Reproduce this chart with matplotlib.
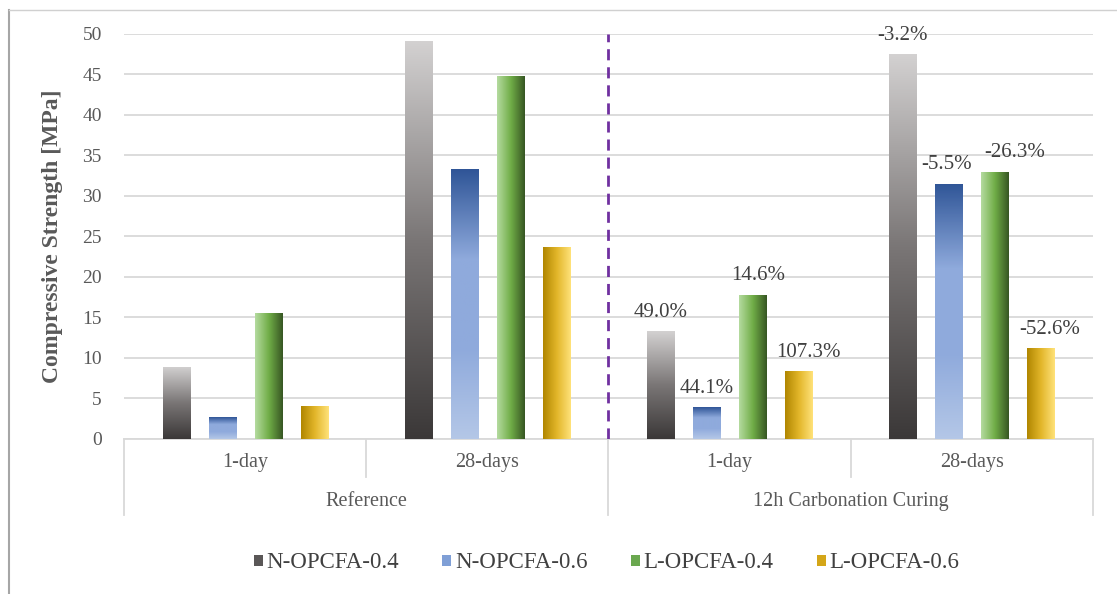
import numpy as np
import matplotlib.pyplot as plt
from matplotlib.patches import Patch
from matplotlib.colors import LinearSegmentedColormap

plt.rcParams['font.family'] = ['Liberation Serif', 'DejaVu Serif']

# data
ages = ['1-day', '28-days', '1-day', '28-days']
curing = ['Reference', '12h Carbonation Curing']
series = ['N-OPCFA-0.4', 'N-OPCFA-0.6', 'L-OPCFA-0.4', 'L-OPCFA-0.6']
n_04 = [8.9, 49.1, 13.3, 47.5]
n_06 = [2.7, 33.3, 3.9, 31.5]
l_04 = [15.5, 44.8, 17.8, 33.0]
l_06 = [4.05, 23.7, 8.4, 11.2]
# change vs. reference, for the carbonated groups (index 2 and 3)
change_1day = ['49.0%', '44.1%', '14.6%', '107.3%']
change_28day = ['-3.2%', '-5.5%', '-26.3%', '-52.6%']

# gradient fills: (colors, direction)
fills = [
    (['#3b3838', '#7a7676', '#d3d1d1'], 'v'),
    (['#b4c7e7', '#8faadc', '#8faadc', '#2f5597'], 'v'),
    (['#b5dba0', '#70ad47', '#375623'], 'h'),
    (['#b08600', '#e2b62a', '#ffe27a'], 'h'),
]
legend_cols = ['#5a5757', '#7f9fd6', '#6aa84f', '#d4a618']
label_dx = [[0, 0, 4, 7], [0, -2, 14, 6]]

fig = plt.figure(figsize=(11.17, 5.94), dpi=100)
ax = fig.add_axes([0.111, 0.261, 0.8675, 0.682])

x = np.arange(len(ages))
offs = [-0.285, -0.095, 0.095, 0.285]
width = 0.112
grad = np.linspace(0, 1, 256)

for vals, off, (cols, d) in zip([n_04, n_06, l_04, l_06], offs, fills):
    bars = ax.bar(x + off, vals, width, facecolor='none', edgecolor='none', zorder=3)
    cmap = LinearSegmentedColormap.from_list('g', cols)
    img = grad[::-1].reshape(-1, 1) if d == 'v' else grad.reshape(1, -1)
    for b in bars:
        x0, y0 = b.get_x(), b.get_y()
        im = ax.imshow(img, cmap=cmap, aspect='auto', zorder=3,
                       extent=[x0, x0 + b.get_width(), y0, y0 + b.get_height()])
        im.set_clip_path(b)

ax.set_xlim(-0.5, 3.5)
ax.set_ylim(0, 50)
ax.set_yticks(range(0, 51, 5))
ax.grid(axis='y', color='#d9d9d9', lw=1.3, zorder=0)
ax.set_axisbelow(True)
for s in ['left', 'right', 'top']:
    ax.spines[s].set_visible(False)
ax.spines['bottom'].set_color('#d9d9d9')
ax.spines['bottom'].set_linewidth(1.3)
ax.tick_params(axis='y', length=0, pad=16, labelsize=14, labelcolor='#595959')
ax.set_xticks([])
ax.set_ylabel('Compressive Strength [MPa]', fontsize=17, fontweight='bold',
              color='#595959')
ax.yaxis.set_label_coords(-0.063, 0.5)

# percent labels over the carbonated bars
for gi, labels in zip([2, 3], [change_1day, change_28day]):
    for si, (vals, off) in enumerate(zip([n_04, n_06, l_04, l_06], offs)):
        ax.annotate(labels[si], (gi + off, vals[gi]),
                    xytext=(label_dx[gi - 2][si], 13.5), textcoords='offset points',
                    ha='center', va='center', fontsize=15, color='#404040')

# divider between reference and carbonation curing
ax.axvline(1.5, color='#7030a0', lw=2, ls=(0, (4, 2.5)), zorder=4)

# two-level category axis
tr = ax.get_xaxis_transform()
for xb in [-0.5, 1.5, 3.5]:
    ax.plot([xb, xb], [0, -0.188], color='#d9d9d9', lw=1.3, transform=tr, clip_on=False)
for xb in [0.5, 2.5]:
    ax.plot([xb, xb], [0, -0.094], color='#d9d9d9', lw=1.3, transform=tr, clip_on=False)
for xi, lab in zip(x, ages):
    ax.text(xi, -0.058, lab, transform=tr, ha='center', va='center',
            fontsize=14.5, color='#595959')
for xi, lab in zip([0.5, 2.5], curing):
    ax.text(xi, -0.155, lab, transform=tr, ha='center', va='center',
            fontsize=14.5, color='#595959')

handles = [Patch(facecolor=c, edgecolor='none') for c in legend_cols]
fig.legend(handles, series, loc='center', bbox_to_anchor=(0.543, 1 - 563 / 594),
           ncol=4, frameon=False, fontsize=16.5, handlelength=0.4, handleheight=0.4,
           handletextpad=0.15, columnspacing=1.9, labelcolor='#404040')

# chart border
fig.add_artist(plt.Line2D([0.008, 0.008], [0, 0.984], color='#a6a6a6', lw=1.5))
fig.add_artist(plt.Line2D([0.008, 1], [0.984, 0.984], color='#d0d0d0', lw=1))

fig.savefig('out.png', dpi=100)
